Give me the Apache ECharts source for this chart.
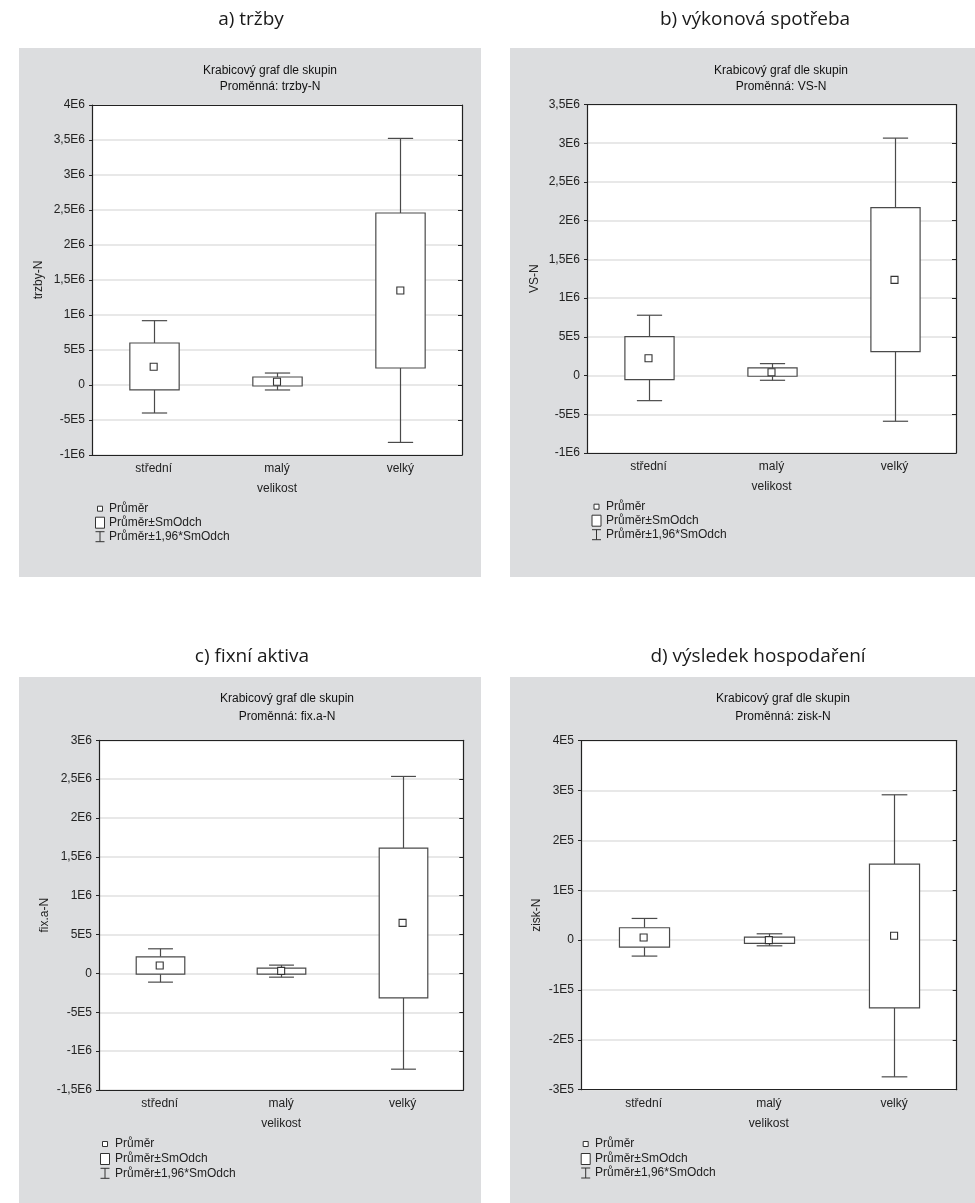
<!DOCTYPE html>
<html>
<head>
<meta charset="utf-8">
<script src="https://cdn.jsdelivr.net/npm/echarts@6/dist/echarts.min.js"></script>
<style>
html,body{margin:0;padding:0;background:#fff;}
#chart{width:975px;height:1203px;}
</style>
</head>
<body>
<div id="chart"></div>
<script>
// ---------- data ----------
const categories = ['střední', 'malý', 'velký'];

// a) tržby
const trzbyMean   = [2.61e5, 0.47e5, 1.35e6];
const trzbySdLow  = [-0.71e5, -0.14e5, 0.243e6];
const trzbySdHigh = [6.0e5, 1.14e5, 2.457e6];
const trzbyCiLow  = [-4.0e5, -0.71e5, -0.82e6];
const trzbyCiHigh = [9.19e5, 1.71e5, 3.523e6];
const trzbyTicks  = ['-1E6','-5E5','0','5E5','1E6','1,5E6','2E6','2,5E6','3E6','3,5E6','4E6'];

// b) výkonová spotřeba
const vsMean   = [2.23e5, 0.43e5, 1.235e6];
const vsSdLow  = [-0.53e5, -0.09e5, 0.309e6];
const vsSdHigh = [5.03e5, 0.98e5, 2.169e6];
const vsCiLow  = [-3.24e5, -0.61e5, -0.59e6];
const vsCiHigh = [7.79e5, 1.54e5, 3.066e6];
const vsTicks  = ['-1E6','-5E5','0','5E5','1E6','1,5E6','2E6','2,5E6','3E6','3,5E6'];

// c) fixní aktiva
const fixMean   = [1.03e5, 0.33e5, 0.651e6];
const fixSdLow  = [-0.09e5, -0.09e5, -0.314e6];
const fixSdHigh = [2.14e5, 0.68e5, 1.613e6];
const fixCiLow  = [-1.12e5, -0.48e5, -1.232e6];
const fixCiHigh = [3.17e5, 1.07e5, 2.535e6];
const fixTicks  = ['-1,5E6','-1E6','-5E5','0','5E5','1E6','1,5E6','2E6','2,5E6','3E6'];

// d) výsledek hospodaření
const ziskMean   = [0.054e5, 0.0, 0.087e5];
const ziskSdLow  = [-0.14e5, -0.067e5, -1.358e5];
const ziskSdHigh = [0.248e5, 0.06e5, 1.525e5];
const ziskCiLow  = [-0.32e5, -0.114e5, -2.742e5];
const ziskCiHigh = [0.435e5, 0.127e5, 2.915e5];
const ziskTicks  = ['-3E5','-2E5','-1E5','0','1E5','2E5','3E5','4E5'];

const panelTitles = ['a) tržby', 'b) výkonová spotřeba', 'c) fixní aktiva', 'd) výsledek hospodaření'];
const chartTitle = 'Krabicový graf dle skupin';
const varNames = ['trzby-N', 'VS-N', 'fix.a-N', 'zisk-N'];
const xName = 'velikost';
const legendLabels = ['Průměr', 'Průměr±SmOdch', 'Průměr±1,96*SmOdch'];

// ---------- layout ----------
const FONT = '"Liberation Sans", Arial, sans-serif';
const FS = 12;
const panels = [
  {mean: trzbyMean, sdL: trzbySdLow, sdH: trzbySdHigh, ciL: trzbyCiLow, ciH: trzbyCiHigh, ticks: trzbyTicks,
   min: -1e6, max: 4e6, interval: 5e5,
   grid: {left: 92, top: 105, width: 370, height: 350}, bg: [19, 48, 462, 529],
   titleXY: [251, 20], subX: 270, subY: [71, 87], nameGap: 47, legSym: 100, legTxt: 109, legY: [508.7, 522.7, 536.7]},
  {mean: vsMean, sdL: vsSdLow, sdH: vsSdHigh, ciL: vsCiLow, ciH: vsCiHigh, ticks: vsTicks,
   min: -1e6, max: 3.5e6, interval: 5e5,
   grid: {left: 587, top: 104.5, width: 369, height: 348.5}, bg: [510, 48, 465, 529],
   titleXY: [755, 20], subX: 781, subY: [71, 87], nameGap: 46, legSym: 596.5, legTxt: 606, legY: [506.7, 520.7, 534.7]},
  {mean: fixMean, sdL: fixSdLow, sdH: fixSdHigh, ciL: fixCiLow, ciH: fixCiHigh, ticks: fixTicks,
   min: -1.5e6, max: 3e6, interval: 5e5,
   grid: {left: 99, top: 740.3, width: 364.3, height: 349.7}, bg: [19, 677, 462, 526],
   titleXY: [252, 657], subX: 287, subY: [699, 717], nameGap: 48, legSym: 105, legTxt: 115, legY: [1144, 1159, 1173.3]},
  {mean: ziskMean, sdL: ziskSdLow, sdH: ziskSdHigh, ciL: ziskCiLow, ciH: ziskCiHigh, ticks: ziskTicks,
   min: -3e5, max: 4e5, interval: 1e5,
   grid: {left: 581, top: 740.7, width: 375.7, height: 349}, bg: [510, 677, 465, 526],
   titleXY: [758, 657], subX: 783, subY: [699, 717], nameGap: 38, legSym: 585.7, legTxt: 595, legY: [1144, 1159, 1173]}
];

const STROKE = '#4a4a4a';

function renderBox(params, api) {
  const xi = api.value(0);
  const pCiL = api.coord([xi, api.value(1)]);
  const pSdL = api.coord([xi, api.value(2)]);
  const pSdH = api.coord([xi, api.value(3)]);
  const pCiH = api.coord([xi, api.value(4)]);
  const band = api.size([1, 0])[0];
  const bw = band * 0.4, cw = band * 0.205;
  const cx = Math.round(pCiL[0]) + 0.5;
  const ls = {stroke: STROKE, lineWidth: 1.2, fill: null};
  return {
    type: 'group',
    children: [
      {type: 'line', shape: {x1: cx, y1: pCiH[1], x2: cx, y2: pSdH[1]}, style: ls},
      {type: 'line', shape: {x1: cx, y1: pSdL[1], x2: cx, y2: pCiL[1]}, style: ls},
      {type: 'line', shape: {x1: cx - cw / 2, y1: pCiH[1], x2: cx + cw / 2, y2: pCiH[1]}, style: ls},
      {type: 'line', shape: {x1: cx - cw / 2, y1: pCiL[1], x2: cx + cw / 2, y2: pCiL[1]}, style: ls},
      {type: 'rect', shape: {x: cx - bw / 2, y: pSdH[1], width: bw, height: pSdL[1] - pSdH[1]},
       style: {fill: '#fff', stroke: STROKE, lineWidth: 1.2}}
    ]
  };
}

const grids = [], xAxes = [], yAxes = [], series = [], graphics = [];

panels.forEach((p, i) => {
  grids.push(Object.assign({show: true, backgroundColor: '#fff', borderWidth: 0}, p.grid));
  const ticks = p.ticks;
  xAxes.push({
    type: 'category', gridIndex: i, data: categories, position: 'bottom',
    name: xName, nameLocation: 'middle', nameGap: 28,
    nameTextStyle: {fontFamily: FONT, fontSize: FS, color: '#222'},
    axisLine: {onZero: false, lineStyle: {color: '#222', width: 1.2}},
    axisTick: {alignWithLabel: true, inside: true, length: 4, lineStyle: {color: '#222'}},
    axisLabel: {fontFamily: FONT, fontSize: FS, color: '#222', margin: 8},
    splitLine: {show: false}
  });
  xAxes.push({
    type: 'category', gridIndex: i, data: categories, position: 'top',
    axisLine: {onZero: false, lineStyle: {color: '#222', width: 1.2}},
    axisTick: {alignWithLabel: true, inside: true, length: 4, lineStyle: {color: '#222'}},
    axisLabel: {show: false}, splitLine: {show: false}
  });
  yAxes.push({
    type: 'value', gridIndex: i, min: p.min, max: p.max, interval: p.interval, position: 'left',
    name: varNames[i], nameLocation: 'middle', nameGap: p.nameGap, nameRotate: 90,
    nameTextStyle: {fontFamily: FONT, fontSize: FS, color: '#222'},
    axisLine: {show: true, onZero: false, lineStyle: {color: '#222', width: 1.2}},
    axisTick: {show: true, length: 3, lineStyle: {color: '#222'}},
    axisLabel: {fontFamily: FONT, fontSize: FS, color: '#222', margin: 7,
      formatter: (v, idx) => ticks[idx]},
    splitLine: {show: true, lineStyle: {color: '#e0e0e0', width: 1.5}}
  });
  yAxes.push({
    type: 'value', gridIndex: i, min: p.min, max: p.max, interval: p.interval, position: 'right',
    axisLine: {show: true, onZero: false, lineStyle: {color: '#222', width: 1.2}},
    axisTick: {show: true, inside: true, length: 4, lineStyle: {color: '#222'}},
    axisLabel: {show: false}, splitLine: {show: false}
  });
  series.push({
    type: 'custom', name: legendLabels[1], xAxisIndex: 2 * i, yAxisIndex: 2 * i,
    renderItem: renderBox, z: 3,
    encode: {x: 0, y: [1, 2, 3, 4]},
    data: categories.map((c, k) => [k, p.ciL[k], p.sdL[k], p.sdH[k], p.ciH[k]])
  });
  series.push({
    type: 'scatter', name: legendLabels[0], xAxisIndex: 2 * i, yAxisIndex: 2 * i,
    symbol: 'rect', symbolSize: 7, z: 5, silent: true,
    itemStyle: {color: '#fff', borderColor: '#333', borderWidth: 1.1, opacity: 1},
    data: categories.map((c, k) => [k, p.mean[k]])
  });

  // gray panel
  graphics.push({type: 'rect', z: -100, silent: true,
    shape: {x: p.bg[0], y: p.bg[1], width: p.bg[2], height: p.bg[3]}, style: {fill: '#dcdddf'}});
  // panel title
  graphics.push({type: 'text', z: 10, x: p.titleXY[0], y: p.titleXY[1],
    style: {text: panelTitles[i], font: '19px "Open Sans", sans-serif', fill: '#1a1a1a',
      textAlign: 'center', textVerticalAlign: 'middle'}});
  // chart titles
  graphics.push({type: 'text', z: 10, x: p.subX, y: p.subY[0],
    style: {text: chartTitle, font: FS + 'px ' + FONT, fill: '#111', textAlign: 'center', textVerticalAlign: 'middle'}});
  graphics.push({type: 'text', z: 10, x: p.subX, y: p.subY[1],
    style: {text: 'Proměnná: ' + varNames[i], font: FS + 'px ' + FONT, fill: '#111', textAlign: 'center', textVerticalAlign: 'middle'}});
  // legend
  const sx = p.legSym, ly = p.legY;
  const lst = {stroke: '#333', lineWidth: 1, fill: '#fff'};
  graphics.push({type: 'rect', z: 10, shape: {x: sx - 2.5, y: ly[0] - 2.5, width: 5, height: 5}, style: lst});
  graphics.push({type: 'rect', z: 10, shape: {x: sx - 4.5, y: ly[1] - 5.5, width: 9, height: 11}, style: lst});
  graphics.push({type: 'line', z: 10, shape: {x1: sx, y1: ly[2] - 5, x2: sx, y2: ly[2] + 5}, style: {stroke: '#333', lineWidth: 1}});
  graphics.push({type: 'line', z: 10, shape: {x1: sx - 4.5, y1: ly[2] - 5, x2: sx + 4.5, y2: ly[2] - 5}, style: {stroke: '#333', lineWidth: 1}});
  graphics.push({type: 'line', z: 10, shape: {x1: sx - 4.5, y1: ly[2] + 5, x2: sx + 4.5, y2: ly[2] + 5}, style: {stroke: '#333', lineWidth: 1}});
  legendLabels.forEach((t, k) => {
    graphics.push({type: 'text', z: 10, x: p.legTxt, y: ly[k],
      style: {text: t, font: FS + 'px ' + FONT, fill: '#222', textAlign: 'left', textVerticalAlign: 'middle'}});
  });
});

const chart = echarts.init(document.getElementById('chart'), null, {renderer: 'canvas'});
chart.setOption({
  animation: false,
  backgroundColor: '#fff',
  grid: grids,
  xAxis: xAxes,
  yAxis: yAxes,
  series: series,
  graphic: {elements: graphics}
});
</script>
</body>
</html>
